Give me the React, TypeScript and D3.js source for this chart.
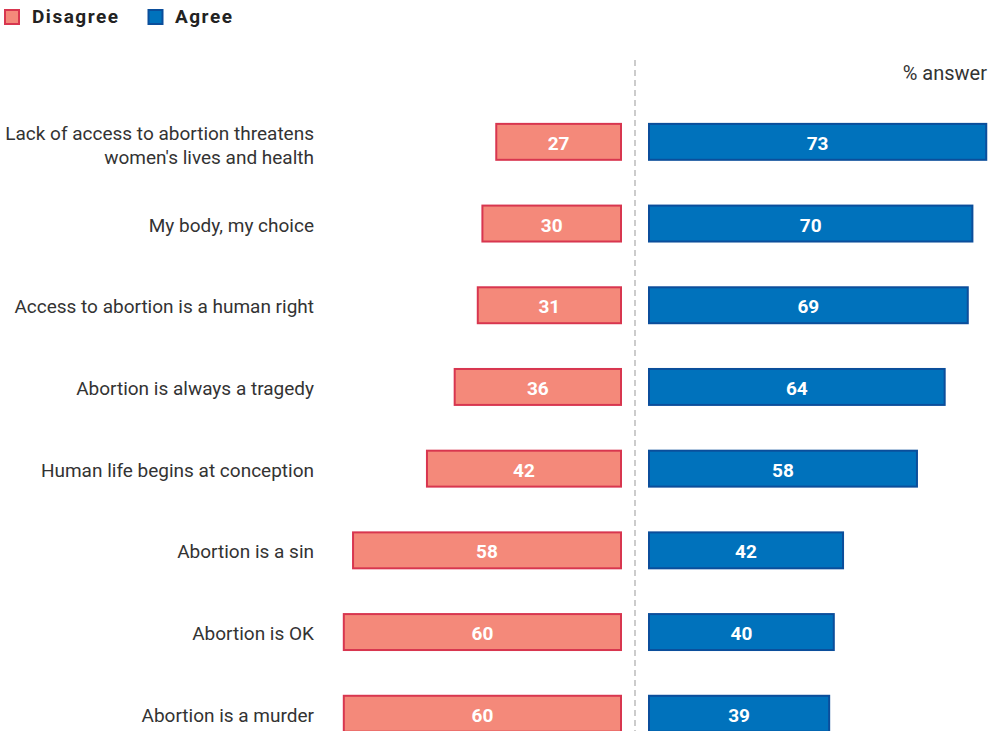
import React from "react";
import * as d3 from "d3";

const statements = [
  "Lack of access to abortion threatens\nwomen's lives and health",
  "My body, my choice",
  "Access to abortion is a human right",
  "Abortion is always a tragedy",
  "Human life begins at conception",
  "Abortion is a sin",
  "Abortion is OK",
  "Abortion is a murder",
];
const disagree = [27, 30, 31, 36, 42, 58, 60, 60];
const agree = [73, 70, 69, 64, 58, 42, 40, 39];
const seriesNames = ["Disagree", "Agree"];
const unitLabel = "% answer";

const W = 990;
const H = 731;
const FONT = "Roboto, 'Noto Sans', sans-serif";
const RED_FILL = "#F4897A";
const RED_STROKE = "#D8364F";
const BLUE_FILL = "#0072BC";
const BLUE_STROKE = "#0B4E9B";

export default function App() {
  const y = d3
    .scaleBand<number>()
    .domain(d3.range(statements.length))
    .range([101, 101 + 81.7 * statements.length])
    .paddingInner(0.56)
    .paddingOuter(0.28);
  const xL = d3.scaleLinear().domain([0, 100]).range([621, 621 - 462]);
  const xR = d3.scaleLinear().domain([0, 100]).range([649, 649 + 462]);
  const bh = y.bandwidth();

  return (
    <svg
      width={W}
      height={H}
      style={{ position: "absolute", left: 0, top: 0, fontFamily: FONT }}
    >
      {/* legend */}
      <g>
        <rect x={5} y={10} width={14} height={14} fill={RED_FILL} stroke={RED_STROKE} strokeWidth={2} />
        <text x={32} y={23} fontSize={19} fontWeight={700} fill="#222" letterSpacing={1.5}>
          {seriesNames[0]}
        </text>
        <rect x={148.5} y={10} width={14} height={14} fill={BLUE_FILL} stroke={BLUE_STROKE} strokeWidth={2} />
        <text x={175} y={23} fontSize={19} fontWeight={700} fill="#222" letterSpacing={1.5}>
          {seriesNames[1]}
        </text>
      </g>
      <text x={987} y={80} textAnchor="end" fontSize={20} fill="#333">
        {unitLabel}
      </text>
      <line x1={635} x2={635} y1={60} y2={H} stroke="#999" strokeWidth={1} strokeDasharray="6,4" />
      {statements.map((s, i) => {
        const yc = (y(i) as number) + bh / 2;
        const lines = s.split("\n");
        const n = lines.length;
        return (
          <g key={i}>
            <text textAnchor="end" fontSize={19} fill="#333">
              {lines.map((l, j) => (
                <tspan key={j} x={314} y={yc + 8 + (j - (n - 1) / 2) * 24 + (n > 1 ? 2 : 0)}>
                  {l}
                </tspan>
              ))}
            </text>
            <rect
              x={xL(disagree[i])}
              y={y(i)}
              width={xL(0) - xL(disagree[i])}
              height={bh}
              fill={RED_FILL}
              stroke={RED_STROKE}
              strokeWidth={2}
            />
            <text
              x={(xL(0) + xL(disagree[i])) / 2}
              y={yc + 8}
              textAnchor="middle"
              fontSize={19}
              fontWeight={700}
              fill="#fff"
            >
              {disagree[i]}
            </text>
            <rect
              x={xR(0)}
              y={y(i)}
              width={xR(agree[i]) - xR(0)}
              height={bh}
              fill={BLUE_FILL}
              stroke={BLUE_STROKE}
              strokeWidth={2}
            />
            <text
              x={(xR(0) + xR(agree[i])) / 2}
              y={yc + 8}
              textAnchor="middle"
              fontSize={19}
              fontWeight={700}
              fill="#fff"
            >
              {agree[i]}
            </text>
          </g>
        );
      })}
    </svg>
  );
}
